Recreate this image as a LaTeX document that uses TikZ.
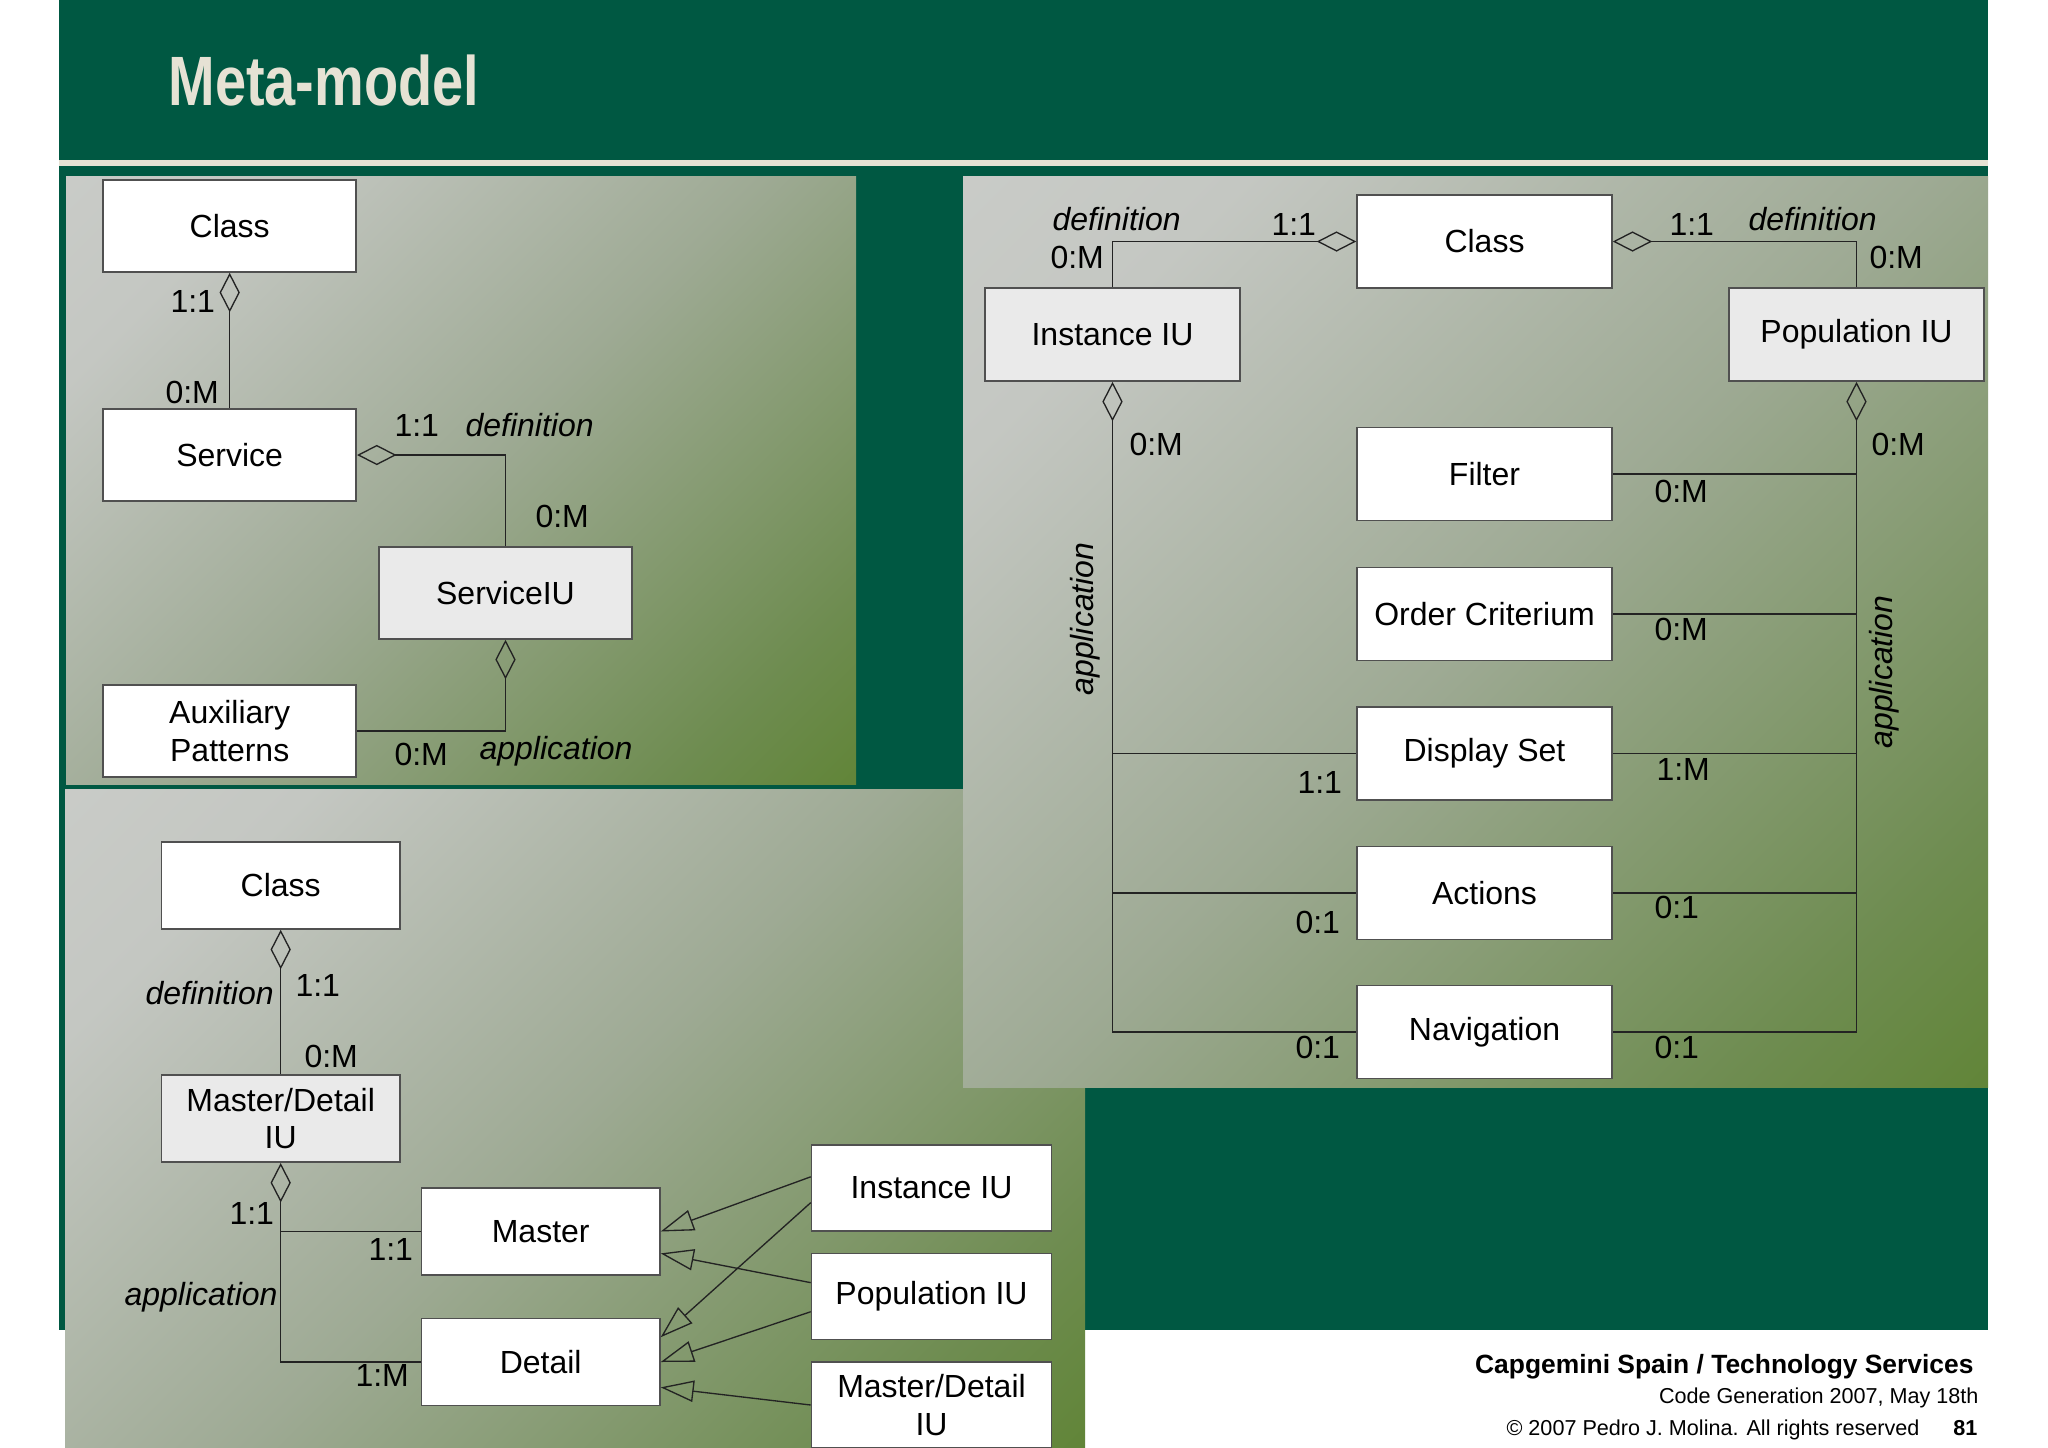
\documentclass[tikz,border=0pt]{standalone}
\usepackage{fontspec}
\setmainfont{Liberation Sans}
\usepackage{graphicx}
\usetikzlibrary{arrows.meta}
\definecolor{slidegreen}{RGB}{0,88,66}
\definecolor{cream}{RGB}{230,226,212}
\definecolor{boxline}{RGB}{80,80,80}
\definecolor{conline}{RGB}{35,35,35}
\definecolor{boxgray}{RGB}{234,234,234}
\definecolor{pA}{RGB}{208,209,207}
\definecolor{pB}{RGB}{196,199,194}
\definecolor{pC}{RGB}{158,170,148}
\definecolor{pD}{RGB}{110,140,80}
\definecolor{pE}{RGB}{78,122,20}
\pgfdeclarehorizontalshading{panelshade}{100bp}{color(0bp)=(pA); color(25bp)=(pB); color(50bp)=(pC); color(76bp)=(pD); color(100bp)=(pE)}
\newcommand{\dgfont}{\fontsize{12}{14}\selectfont}
\newcommand{\ttlfont}{\fontsize{26.2}{30}\selectfont\bfseries}
\tikzset{
  umlbox/.style={draw=boxline, fill=white, line width=0.6pt, inner sep=0pt, align=center, font=\dgfont},
  pone/.style={umlbox, minimum width=94.9pt, minimum height=34.5pt},
  ptwo/.style={umlbox, minimum width=95.6pt, minimum height=34.9pt},
  pthree/.style={umlbox, minimum width=89.4pt, minimum height=32.6pt},
  pthreeb/.style={umlbox, minimum width=90pt, minimum height=32.3pt},
  grayfill/.style={fill=boxgray},
  lbl/.style={anchor=base west, inner sep=0pt, font=\dgfont},
  ital/.style={anchor=base west, inner sep=0pt, font=\dgfont\itshape},
  con/.style={draw=conline, line width=0.5pt},
  agg/.style={con, arrows={-Diamond[open, length=14.8pt, width=7.6pt]}},
  aggs/.style={con, arrows={Diamond[open, length=14.8pt, width=7.6pt]-}},
  gen/.style={con, arrows={-Triangle[open, length=12.4pt, width=8pt]}},
  panel/.style={shading=panelshade, shading angle=-45},
  foot/.style={anchor=base east, inner sep=0pt}
}
\begin{document}
\begin{tikzpicture}[x=0.375pt, y=-0.375pt]
% background
\fill[white] (0,0) rectangle (2048,1447);
\useasboundingbox (0,0) rectangle (2048,1447);
\fill[slidegreen] (59,0) rectangle (1988,1330);
\fill[cream] (59,160) rectangle (1988,166);
% panels
\shade[panel] (66,176) rectangle (856,784);
\shade[panel] (65,789) rectangle (1085,1447);
\shade[panel] (963,176) rectangle (1988,1087);
% title
\node[anchor=base west, inner sep=0pt, text=cream, font=\ttlfont] (title) at (168,105) {\scalebox{0.8}[1]{Meta-model}};

% ---------------- panel 1 ----------------
\node[pone] (cls1) at (229.7,226) {Class};
\node[pone] (srv) at (229.7,455) {Service};
\node[pone, grayfill] (siu) at (505.5,593) {ServiceIU};
\node[pone] (aux) at (229.7,731) {Auxiliary\\Patterns};
\draw[agg] (srv.north) -- (cls1.south);
\draw[agg] (siu.north) |- (srv.east);
\draw[agg] (aux.east) -| (siu.south);
\node[lbl] (l1) at (170,312) {1:1};
\node[lbl] (l2) at (165,403) {0:M};
\node[lbl] (l3) at (394,436) {1:1};
\node[ital] (l4) at (465,436) {definition};
\node[lbl] (l5) at (535,527) {0:M};
\node[lbl] (l6) at (394,765) {0:M};
\node[ital] (l7) at (479,759) {application};

% ---------------- panel 2 ----------------
\node[ptwo] (cls2) at (1484.5,241.5) {Class};
\node[ptwo, grayfill] (iiu) at (1112.5,334.5) {Instance IU};
\node[ptwo, grayfill] (piu) at (1856.5,334.5) {Population IU};
\node[ptwo] (filt) at (1484.5,474) {Filter};
\node[ptwo] (ord) at (1484.5,614) {Order Criterium};
\node[ptwo] (disp) at (1484.5,753.5) {Display Set};
\node[ptwo] (act) at (1484.5,893) {Actions};
\node[ptwo] (nav) at (1484.5,1032) {Navigation};
\draw[agg] (iiu.north) |- (cls2.west);
\draw[agg] (piu.north) |- (cls2.east);
\draw[aggs] (iiu.south) -- (iiu.south |- nav.west) -- (nav.west);
\draw[con] (iiu.south |- disp.west) -- (disp.west);
\draw[con] (iiu.south |- act.west) -- (act.west);
\draw[aggs] (piu.south) -- (piu.south |- nav.east) -- (nav.east);
\draw[con] (piu.south |- filt.east) -- (filt.east);
\draw[con] (piu.south |- ord.east) -- (ord.east);
\draw[con] (piu.south |- disp.east) -- (disp.east);
\draw[con] (piu.south |- act.east) -- (act.east);
\node[ital] (m1) at (1052,230) {definition};
\node[lbl] (m2) at (1271,235) {1:1};
\node[lbl] (m3) at (1050,268) {0:M};
\node[lbl] (m4) at (1669,235) {1:1};
\node[ital] (m5) at (1748,230) {definition};
\node[lbl] (m6) at (1869,268) {0:M};
\node[lbl] (m7) at (1129,455) {0:M};
\node[lbl] (m8) at (1871,455) {0:M};
\node[lbl] (m9) at (1654,502) {0:M};
\node[lbl] (m10) at (1654,640) {0:M};
\node[lbl] (m11) at (1297,793) {1:1};
\node[lbl] (m12) at (1656,780) {1:M};
\node[lbl] (m13) at (1295,933) {0:1};
\node[lbl] (m14) at (1654,918) {0:1};
\node[lbl] (m15) at (1295,1058) {0:1};
\node[lbl] (m16) at (1654,1058) {0:1};
\node[inner sep=0pt, font=\dgfont\itshape, anchor=base, rotate=90] (m17) at (1093,619) {application};
\node[inner sep=0pt, font=\dgfont\itshape, anchor=base, rotate=90] (m18) at (1892,672) {application};

% ---------------- panel 3 ----------------
\node[pthree] (cls3) at (280.7,885.5) {Class};
\node[pthree, grayfill] (mdiu) at (280.7,1118.7) {Master/Detail\\IU};
\node[pthree] (mast) at (540.7,1231.5) {Master};
\node[pthree] (det) at (540.7,1362) {Detail};
\node[pthreeb] (iiu3) at (931.5,1188) {Instance IU};
\node[pthreeb] (piu3) at (931.5,1296.5) {Population IU};
\node[pthreeb] (mdiu3) at (931.5,1405) {Master/Detail\\IU};
\draw[agg] (mdiu.north) -- (cls3.south);
\draw[aggs] (mdiu.south) -- (mdiu.south |- det.west) -- (det.west);
\draw[con] (mdiu.south |- mast.west) -- (mast.west);
\draw[gen] ([yshift=4.2pt]iiu3.west) -- (mast.east);
\draw[gen] ([yshift=5.2pt]piu3.west) -- ([yshift=-8.2pt]mast.east);
\draw[gen] ([yshift=-5.5pt]iiu3.west) -- ([yshift=9.3pt]det.east);
\draw[gen] ([yshift=-5.7pt]piu3.west) -- (det.east);
\draw[gen] (mdiu3.west) -- ([yshift=-9.5pt]det.east);
\node[ital] (n1) at (145,1004) {definition};
\node[lbl] (n2) at (295,996) {1:1};
\node[lbl] (n3) at (304,1067) {0:M};
\node[lbl] (n4) at (229,1224.5) {1:1};
\node[lbl] (n5) at (368,1260.6) {1:1};
\node[ital] (n6) at (124,1305) {application};
\node[lbl] (n7) at (355,1386) {1:M};

% ---------------- footer ----------------
\node[foot, font=\fontsize{9.9}{12}\selectfont\bfseries] (f1) at (1974,1373) {Capgemini Spain / Technology Services};
\node[foot, font=\fontsize{8.1}{10}\selectfont] (f2) at (1979,1403) {Code Generation 2007, May 18th};
\node[foot, font=\fontsize{8.1}{10}\selectfont] (f3) at (1920,1435) {© 2007 Pedro J. Molina. All rights reserved};
\node[foot, font=\fontsize{8.1}{10}\selectfont\bfseries] (f4) at (1978,1435) {81};
\end{tikzpicture}
\end{document}
